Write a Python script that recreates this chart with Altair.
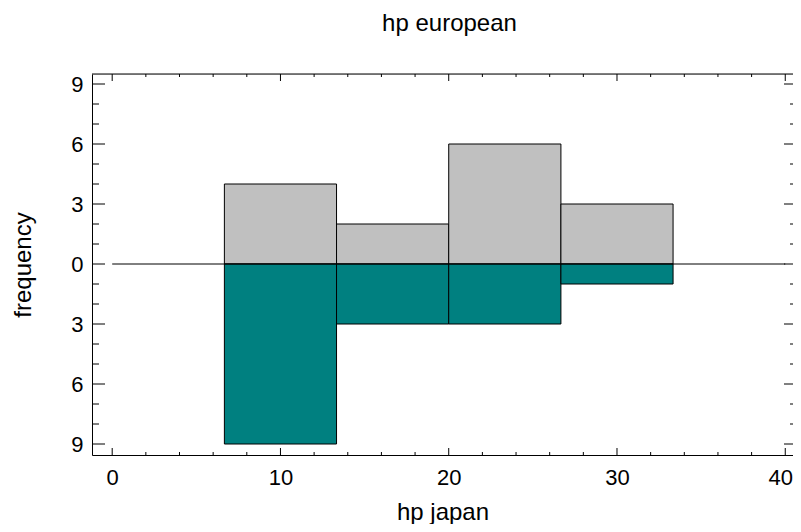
import altair as alt
import pandas as pd

# ---- data ----
bin_starts = [6.667, 13.333, 20.0, 26.667]
bin_ends = [13.333, 20.0, 26.667, 33.333]
european_counts = [4, 2, 6, 3]
japan_counts = [9, 3, 3, 1]

zero_line_x = [0, 40]

x_major = [0, 10, 20, 30, 40]
x_minor = [2, 4, 6, 8, 12, 14, 16, 18, 22, 24, 26, 28, 32, 34, 36, 38]
y_major = [-9, -6, -3, 0, 3, 6, 9]
y_minor = [-8, -7, -5, -4, -2, -1, 1, 2, 4, 5, 7, 8]

x_domain = [-1.2, 40.46]
y_domain = [-9.55, 9.5]

W, H = 701, 381
FONT = "Liberation Sans"

bars = pd.DataFrame({
    "start": bin_starts,
    "end": bin_ends,
    "eu": european_counts,
    "jp": [-c for c in japan_counts],
})
zero_df = pd.DataFrame({"x0": [zero_line_x[0]], "x1": [zero_line_x[1]], "y": [0]})

xs = alt.Scale(domain=x_domain, nice=False, zero=False)
ys = alt.Scale(domain=y_domain, nice=False, zero=False)

xaxis = alt.Axis(
    title="hp japan", values=x_major, ticks=False, grid=False, domain=True,
    domainColor="black", domainWidth=1, labelFontSize=22, labelFont=FONT,
    labelColor="black", labelPadding=12, titleFontSize=24, titleFont=FONT,
    titleFontWeight="normal", titleColor="black", titleBaseline="alphabetic",
    titleY=64, format="d",
    labelOffset={"condition": {"test": "datum.value == 40", "value": -5}, "value": 0},
)
yaxis = alt.Axis(
    title="frequency", values=y_major, ticks=False, grid=False, domain=True,
    domainColor="black", domainWidth=1, labelFontSize=22, labelFont=FONT,
    labelColor="black", labelPadding=9, labelExpr="'' + abs(datum.value)",
    titleFontSize=24, titleFont=FONT, titleFontWeight="normal",
    titleColor="black", titleAngle=270, titleBaseline="alphabetic",
    titleAlign="center", titleX=-62, titleY=H / 2,
)


def X(f):
    return alt.X(f, type="quantitative", scale=xs, axis=xaxis)


def X2(f):
    return alt.X2(f)


def Y(f):
    return alt.Y(f, type="quantitative", scale=ys, axis=yaxis)


upper = alt.Chart(bars).mark_rect(fill="#c0c0c0", stroke="black", strokeWidth=1).encode(
    x=X("start"), x2=X2("end"), y=Y("eu"), y2=alt.datum(0)
)
lower = alt.Chart(bars).mark_rect(fill="#008080", stroke="black", strokeWidth=1).encode(
    x=X("start"), x2=X2("end"), y=Y("jp"), y2=alt.datum(0)
)
zero = alt.Chart(zero_df).mark_rule(color="black", strokeWidth=1).encode(
    x=X("x0"), x2=X2("x1"), y=Y("y")
)
top_border = alt.Chart(zero_df).mark_rule(color="black", strokeWidth=1).encode(
    x=alt.value(0), x2=alt.value(W), y=alt.value(0)
)


def xticks(vals, y0, y1):
    return alt.Chart(pd.DataFrame({"v": vals})).mark_rule(color="black", strokeWidth=1).encode(
        x=X("v"), y=alt.value(y0), y2=alt.value(y1)
    )


def yticks(vals, x0, x1):
    return alt.Chart(pd.DataFrame({"v": vals})).mark_rule(color="black", strokeWidth=1).encode(
        y=Y("v"), x=alt.value(x0), x2=alt.value(x1)
    )


ticks = [
    xticks(x_major, 0, 7), xticks(x_minor, 0, 3),
    xticks(x_major, H, H - 7), xticks(x_minor, H, H - 3),
    yticks(y_major, 0, 13), yticks(y_minor, 0, 7),
    yticks(y_major, W - 9, W), yticks(y_minor, W - 3, W),
]

chart = alt.layer(upper, lower, zero, top_border, *ticks).properties(
    width=W, height=H,
    title=alt.TitleParams(
        "hp european", fontSize=24, font=FONT, fontWeight="normal", color="black",
        anchor="middle", offset=37, dx=7,
    ),
    autosize=alt.AutoSizeParams(type="none"),
    padding={"left": 84, "top": 66, "right": 0, "bottom": 69},
).configure_view(stroke="transparent").configure(background="white")

chart.save("out.html", embed_options={"renderer": "svg", "actions": False})
